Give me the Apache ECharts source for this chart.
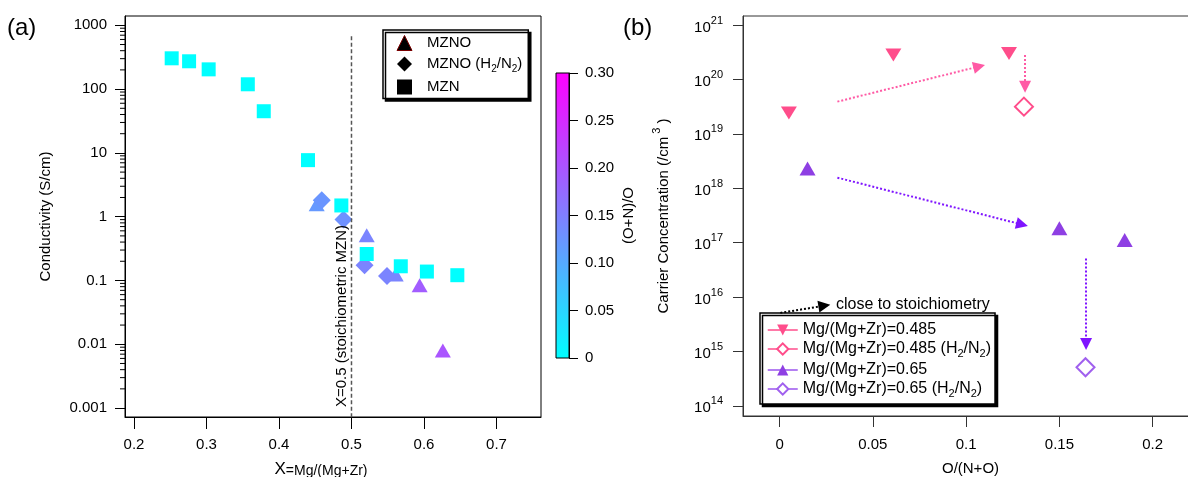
<!DOCTYPE html>
<html>
<head>
<meta charset="utf-8">
<script src="https://cdn.jsdelivr.net/npm/echarts@6/dist/echarts.min.js"></script>
<style>
html, body { margin: 0; padding: 0; background: #fff; }
#chart { width: 1188px; height: 477px; }
</style>
</head>
<body>
<div id="chart"></div>
<script>
// ---------- (a) conductivity ----------
// MZN (squares)
const mznX = [0.252, 0.276, 0.303, 0.357, 0.379, 0.44, 0.486, 0.521, 0.568, 0.604, 0.646]
const mznY = [304, 273, 204, 119, 45, 7.7, 1.5, 0.26, 0.167, 0.138, 0.121]
const mznC = [0, 0, 0, 0, 0, 0, 0, 0, 0, 0, 0]

// MZNO (triangles)
const mznoX = [0.452, 0.521, 0.561, 0.594, 0.626]
const mznoY = [1.56, 0.51, 0.124, 0.084, 0.008]
const mznoC = [0.12, 0.145, 0.145, 0.19, 0.2]

// MZNO (H2/N2) (diamonds)
const mznoHX = [0.459, 0.489, 0.518, 0.549]
const mznoHY = [1.81, 0.9, 0.173, 0.118]
const mznoHC = [0.125, 0.13, 0.145, 0.145]

const xTicksA = [0.2, 0.3, 0.4, 0.5, 0.6, 0.7]
const colorTicks = [0, 0.05, 0.1, 0.15, 0.2, 0.25, 0.3]

// stoichiometric reference line x = 0.5
const stoichX = [0.5, 0.5]
const stoichY = [0.00072, 680]

// ---------- (b) carrier concentration ----------
const m485X = [0.005, 0.061, 0.123]
const m485Y = [2.4e19, 2.8e20, 3.0e20]
const m485HX = [0.131]
const m485HY = [3.15e19]
const m65X = [0.015, 0.15, 0.185]
const m65Y = [2.3e18, 1.83e17, 1.12e17]
const m65HX = [0.164]
const m65HY = [5.1e14]

const xTicksB = [0, 0.05, 0.1, 0.15, 0.2]

// arrows: [start, end]
const pinkArrows = [
  [[0.031, 3.9e19], [0.107, 1.73e20]],
  [[0.1316, 2.8e20], [0.1316, 7.3e19]]
]
const purpleArrows = [
  [[0.031, 1.56e18], [0.130, 2.15e17]],
  [[0.1643, 5.1e16], [0.1643, 1.37e15]]
]
const keyArrow = [[0.0004, 5.1e15], [0.024, 6.9e15]]

// axis ranges
const yMinA = Math.pow(10, -3.14), yMaxA = Math.pow(10, 3.146)
const yMinB = Math.pow(10, 13.812), yMaxB = Math.pow(10, 21.165)

const FONT = "'Liberation Sans', Arial, sans-serif"

// minor ticks for the log axis of (a)
const minorA = []
for (let k = -3; k < 3; k++) {
  for (let m = 2; m < 10; m++) minorA.push(m * Math.pow(10, k))
}

const zip3 = (xs, ys, cs) => xs.map((x, i) => [x, ys[i], cs[i]])
const zip2 = (xs, ys) => xs.map((x, i) => [x, ys[i]])

const fmtA = v => {
  const e = Math.round(Math.log10(v))
  return e >= 0 ? String(Math.pow(10, e)) : Math.pow(10, e).toFixed(-e)
}
const fmtB = v => '{b|10}{s|' + Math.round(Math.log10(v)) + '}'

// legend names with subscripts
const richName = name => {
  if (name.indexOf('(H2/N2)') < 0) return '{n|' + name + '}'
  return '{n|' + name.replace('(H2/N2)', '(H}{sub|2}{n|/N}{sub|2}{n|)') + '}'
}

const arrowLines = (arrs, color) => arrs.map(a => [
  { coord: a[0], lineStyle: { color: color } },
  { coord: a[1] }
])

const PINK = '#ff4d8b'
const PURPLE = '#8e3fe3'

const chart = echarts.init(document.getElementById('chart'), null, { renderer: 'canvas' })

const axisCommon = {
  axisLine: { onZero: false, lineStyle: { color: '#000', width: 1 } },
  splitLine: { show: false },
  nameMoveOverlap: false
}

const option = {
  animation: false,
  backgroundColor: '#fff',
  textStyle: { fontFamily: FONT },
  grid: [
    { left: 125, top: 16, width: 416, height: 401, show: true, borderColor: '#000', borderWidth: 1, containLabel: false, outerBoundsMode: 'none' },
    { left: 743, top: 16, width: 455, height: 400, show: true, borderColor: '#333', borderWidth: 1, containLabel: false, outerBoundsMode: 'none' },
    {
      left: 556, top: 73, width: 13, height: 285, show: true, borderColor: '#000', borderWidth: 1,
      containLabel: false, outerBoundsMode: 'none',
      backgroundColor: new echarts.graphic.LinearGradient(0, 0, 0, 1, [
        { offset: 0, color: '#ff00ff' },
        { offset: 1, color: '#00ffff' }
      ])
    }
  ],
  xAxis: [
    {
      ...axisCommon,
      gridIndex: 0, type: 'value', min: 0.1876, max: 0.7614,
      axisTick: { customValues: xTicksA, length: 12, lineStyle: { color: '#000' } },
      axisLabel: { customValues: xTicksA, margin: 20, fontSize: 15, color: '#000', fontFamily: FONT, formatter: v => String(v) },
      name: '{big|X}{n|=Mg/(Mg+Zr)}', nameLocation: 'middle', nameGap: 43,
      nameTextStyle: {
        padding: [0, 24, 0, 0],
        rich: {
          big: { fontSize: 17, color: '#000', fontFamily: FONT, verticalAlign: 'bottom', lineHeight: 18 },
          n: { fontSize: 14, color: '#000', fontFamily: FONT, verticalAlign: 'bottom', lineHeight: 18 }
        }
      }
    },
    {
      ...axisCommon,
      gridIndex: 1, type: 'value', min: -0.0196, max: 0.2243,
      axisLine: { onZero: false, lineStyle: { color: '#333', width: 1 } },
      axisTick: { customValues: xTicksB, length: 11, lineStyle: { color: '#333' } },
      axisLabel: { customValues: xTicksB, margin: 21, fontSize: 15, color: '#000', fontFamily: FONT, formatter: v => String(v) },
      name: 'O/(N+O)', nameLocation: 'middle', nameGap: 45,
      nameTextStyle: { fontSize: 15, color: '#000', fontFamily: FONT }
    },
    { gridIndex: 2, type: 'value', show: false, min: 0, max: 1 }
  ],
  yAxis: [
    {
      ...axisCommon,
      gridIndex: 0, type: 'log', logBase: 10, min: yMinA, max: yMaxA,
      axisTick: { length: 10, lineStyle: { color: '#000' } },
      axisLabel: { margin: 18, fontSize: 15, color: '#000', fontFamily: FONT, formatter: fmtA, showMinLabel: false, showMaxLabel: false },
      name: 'Conductivity (S/cm)', nameLocation: 'middle', nameRotate: 90, nameGap: 72,
      nameTextStyle: { fontSize: 15, color: '#000', fontFamily: FONT }
    },
    {
      ...axisCommon,
      gridIndex: 1, type: 'log', logBase: 10, min: yMinB, max: yMaxB,
      axisLine: { onZero: false, lineStyle: { color: '#333', width: 1 } },
      axisTick: { length: 10, lineStyle: { color: '#333' } },
      axisLabel: {
        margin: 20, color: '#000', formatter: fmtB, showMinLabel: false, showMaxLabel: false,
        rich: {
          b: { fontSize: 15, lineHeight: 20, verticalAlign: 'bottom', color: '#000', fontFamily: FONT },
          s: { fontSize: 11, lineHeight: 20, verticalAlign: 'top', color: '#000', fontFamily: FONT }
        }
      },
      name: '{n|Carrier Concentration (/cm}{s| 3}{n| )}', nameLocation: 'middle', nameRotate: 90, nameGap: 72,
      nameTextStyle: {
        rich: {
          n: { fontSize: 15, lineHeight: 20, verticalAlign: 'bottom', color: '#000', fontFamily: FONT },
          s: { fontSize: 11, lineHeight: 20, verticalAlign: 'top', color: '#000', fontFamily: FONT }
        }
      }
    },
    {
      ...axisCommon,
      gridIndex: 2, type: 'value', position: 'right', min: 0, max: 0.3,
      axisTick: { customValues: colorTicks, length: 9, lineStyle: { color: '#000' } },
      axisLabel: { customValues: colorTicks, margin: 16, fontSize: 15, color: '#000', fontFamily: FONT, formatter: v => v === 0 ? '0' : v.toFixed(2) },
      name: '(O+N)/O', nameLocation: 'middle', nameRotate: 90, nameGap: 52,
      nameTextStyle: { fontSize: 15, color: '#000', fontFamily: FONT }
    }
  ],
  visualMap: {
    type: 'continuous', show: false, min: 0, max: 0.3, dimension: 2,
    seriesIndex: [0, 1, 2],
    inRange: { color: ['#00ffff', '#ff00ff'] }
  },
  legend: [
    {
      orient: 'vertical', left: 383, top: 30,
      itemWidth: 15, itemHeight: 15, itemGap: 5.5,
      padding: [5, 6, 4, 13.5],
      backgroundColor: '#fff', borderColor: '#000', borderWidth: 1.5,
      shadowColor: '#000', shadowBlur: 0, shadowOffsetX: 2.5, shadowOffsetY: 2.5,
      selectedMode: false,
      formatter: richName,
      textStyle: {
        color: '#000', fontSize: 15, fontFamily: FONT, padding: [0, 0, 0, 10],
        rich: {
          n: { fontSize: 15, lineHeight: 20, color: '#000', fontFamily: FONT },
          sub: { fontSize: 10, lineHeight: 20, verticalAlign: 'bottom', color: '#000', fontFamily: FONT }
        }
      },
      data: [
        { name: 'MZNO', itemStyle: { color: '#000', borderColor: '#7a0000', borderWidth: 1 } },
        { name: 'MZNO (H2/N2)', itemStyle: { color: '#000' } },
        { name: 'MZN', itemStyle: { color: '#000' } }
      ]
    },
    {
      orient: 'vertical', left: 760, top: 313,
      itemWidth: 30, itemHeight: 14, itemGap: 3,
      padding: [9, 4, 5, 7],
      backgroundColor: '#fff', borderColor: '#000', borderWidth: 1.5,
      shadowColor: '#000', shadowBlur: 0, shadowOffsetX: 2.5, shadowOffsetY: 2.5,
      selectedMode: false,
      formatter: richName,
      textStyle: {
        color: '#000', fontSize: 16, fontFamily: FONT,
        rich: {
          n: { fontSize: 16, lineHeight: 20, color: '#000', fontFamily: FONT },
          sub: { fontSize: 11, lineHeight: 20, verticalAlign: 'bottom', color: '#000', fontFamily: FONT }
        }
      },
      data: [
        { name: 'Mg/(Mg+Zr)=0.485', lineStyle: { color: PINK, width: 1.5, opacity: 1 } },
        { name: 'Mg/(Mg+Zr)=0.485 (H2/N2)', lineStyle: { color: PINK, width: 1.5, opacity: 1 } },
        { name: 'Mg/(Mg+Zr)=0.65', lineStyle: { color: '#9b55ee', width: 1.5, opacity: 1 } },
        { name: 'Mg/(Mg+Zr)=0.65 (H2/N2)', lineStyle: { color: '#9b55ee', width: 1.5, opacity: 1 } }
      ]
    }
  ],
  graphic: [
    { type: 'text', left: 7, top: 16, style: { text: '(a)', fontSize: 24, fill: '#000', fontFamily: FONT } },
    { type: 'text', left: 623, top: 16, style: { text: '(b)', fontSize: 24, fill: '#000', fontFamily: FONT } },
    {
      type: 'text', x: 342, y: 316, rotation: Math.PI / 2, z: 100,
      style: { text: 'X=0.5 (stoichiometric MZN)', fontSize: 15, fill: '#000', fontFamily: FONT, align: 'center', verticalAlign: 'middle' }
    },
    {
      type: 'text', x: 836, y: 305, z: 100,
      style: { text: 'close to stoichiometry', fontSize: 16, fill: '#000', fontFamily: FONT, align: 'left', verticalAlign: 'middle' }
    }
  ],
  series: [
    // (a)
    {
      name: 'MZNO', type: 'scatter', xAxisIndex: 0, yAxisIndex: 0,
      symbol: 'triangle', symbolSize: [16, 14],
      itemStyle: { color: '#000', opacity: 1 },
      data: zip3(mznoX, mznoY, mznoC)
    },
    {
      name: 'MZNO (H2/N2)', type: 'scatter', xAxisIndex: 0, yAxisIndex: 0,
      symbol: 'diamond', symbolSize: 18,
      itemStyle: { color: '#000', opacity: 1 },
      data: zip3(mznoHX, mznoHY, mznoHC)
    },
    {
      name: 'MZN', type: 'scatter', xAxisIndex: 0, yAxisIndex: 0,
      symbol: 'rect', symbolSize: 14,
      itemStyle: { color: '#000', opacity: 1 },
      data: zip3(mznX, mznY, mznC)
    },
    {
      name: 'stoich', type: 'line', xAxisIndex: 0, yAxisIndex: 0,
      showSymbol: false, symbol: 'none', silent: true,
      lineStyle: { color: '#555', width: 1.5, type: [4, 2.5] },
      data: zip2(stoichX, stoichY)
    },
    {
      // minor ticks of the conductivity axis
      name: 'minorTicks', type: 'custom', xAxisIndex: 0, yAxisIndex: 0, silent: true, clip: false,
      data: minorA.map(v => [0.1876, v]),
      renderItem: (params, api) => {
        const p = api.coord([api.value(0), api.value(1)])
        return {
          type: 'line',
          shape: { x1: p[0] - 5, y1: p[1], x2: p[0], y2: p[1] },
          style: { stroke: '#000', lineWidth: 1 }
        }
      }
    },
    // (b)
    {
      name: 'Mg/(Mg+Zr)=0.485', type: 'line', xAxisIndex: 1, yAxisIndex: 1,
      symbol: 'path://M0,0 L20,0 L10,16 Z', symbolSize: [16, 13], showSymbol: true,
      itemStyle: { color: PINK }, lineStyle: { opacity: 0 },
      data: zip2(m485X, m485Y),
      markLine: {
        silent: true, symbol: ['none', 'triangle'], symbolSize: 12,
        label: { show: false },
        lineStyle: { color: '#ff5aa5', width: 2, type: 'dotted' },
        data: arrowLines(pinkArrows, '#ff5aa5')
      }
    },
    {
      name: 'Mg/(Mg+Zr)=0.485 (H2/N2)', type: 'line', xAxisIndex: 1, yAxisIndex: 1,
      symbol: 'emptyDiamond', symbolSize: 18, showSymbol: true,
      itemStyle: { color: PINK, borderWidth: 1 }, lineStyle: { opacity: 0 },
      data: zip2(m485HX, m485HY)
    },
    {
      name: 'Mg/(Mg+Zr)=0.65', type: 'line', xAxisIndex: 1, yAxisIndex: 1,
      symbol: 'triangle', symbolSize: [16, 14], showSymbol: true,
      itemStyle: { color: PURPLE }, lineStyle: { opacity: 0 },
      data: zip2(m65X, m65Y),
      markLine: {
        silent: true, symbol: ['none', 'triangle'], symbolSize: 12,
        label: { show: false },
        lineStyle: { color: '#7f14ff', width: 2, type: 'dotted' },
        data: arrowLines(purpleArrows, '#7f14ff')
      }
    },
    {
      name: 'Mg/(Mg+Zr)=0.65 (H2/N2)', type: 'line', xAxisIndex: 1, yAxisIndex: 1,
      symbol: 'emptyDiamond', symbolSize: 18, showSymbol: true,
      itemStyle: { color: '#a060ee', borderWidth: 1 }, lineStyle: { opacity: 0 },
      data: zip2(m65HX, m65HY)
    },
    {
      name: 'key', type: 'line', xAxisIndex: 1, yAxisIndex: 1, data: [],
      markLine: {
        silent: true, symbol: ['none', 'triangle'], symbolSize: 12,
        label: { show: false },
        lineStyle: { color: '#000', width: 2, type: 'dotted' },
        data: arrowLines([keyArrow], '#000')
      }
    }
  ]
}

chart.setOption(option)
</script>
</body>
</html>
